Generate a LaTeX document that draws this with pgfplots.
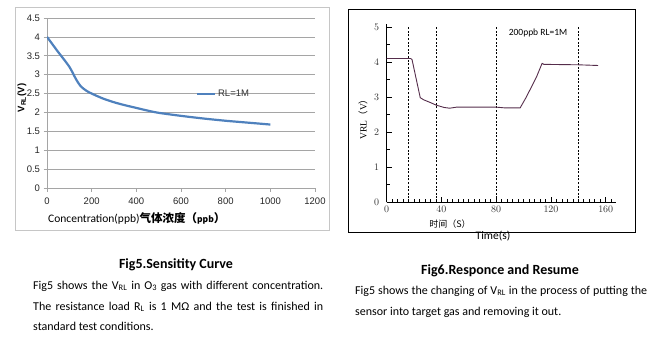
\documentclass[border=0pt]{standalone}
\usepackage{pgfplots}
\pgfplotsset{compat=1.18}
\usepackage{fontspec}
\setmainfont{Carlito}
\newfontfamily\cjk{Noto Sans CJK SC}
\newfontfamily\arial{Liberation Sans}
\newfontfamily\tnr{Liberation Serif}
\definecolor{xlblue}{RGB}{79,129,189}
\definecolor{gridgray}{RGB}{165,165,165}
\definecolor{curvep}{RGB}{85,45,75}
\begin{document}
\begin{tikzpicture}
\path[use as bounding box] (0,0) rectangle (657bp,-342bp);
\draw[gray!45, line width=0.8bp] (15bp,-7bp) rectangle (329bp,-230bp);
\draw[black, line width=0.6bp] (348bp,-9bp) rectangle (635bp,-232bp);

% ---------- Fig5 ----------
\begin{axis}[
  at={(47bp,-188bp)}, anchor=south west,
  scale only axis, width=268bp, height=170bp,
  xmin=0, xmax=1200, ymin=0, ymax=4.5,
  axis lines*=left,
  axis line style={gridgray, line width=0.6bp},
  xtick={0,200,...,1200},
  ytick={0,0.5,1,1.5,2,2.5,3,3.5,4,4.5},
  scaled x ticks=false,
  ymajorgrids, grid style={gridgray, line width=0.6bp},
  tick align=outside, major tick length=3.5bp,
  tick style={gridgray, line width=0.6bp},
  /pgf/number format/assume math mode=true,
  /pgf/number format/1000 sep={},
  ticklabel style={font=\arial\fontsize{9.5bp}{11bp}\selectfont, text=black!85},
  x tick label style={yshift=-3bp},
  legend style={at={(0.555,0.551)}, anchor=west, draw=none, fill=none,
    font=\arial\fontsize{9.5bp}{11bp}\selectfont, text=black!80, inner sep=0pt},
  legend image code/.code={\draw[#1] (0bp,0bp) -- (18bp,0bp);},
]
\addplot[xlblue, line width=2.2bp, smooth] coordinates {
(0,4.0)(25,3.8)(50,3.6)(75,3.41)(100,3.21)(115,3.05)(130,2.88)(150,2.7)(175,2.58)(200,2.5)
(250,2.37)(300,2.27)(350,2.19)(400,2.12)(450,2.05)(500,1.99)(600,1.91)(700,1.84)
(800,1.78)(900,1.73)(1000,1.68)};
\addlegendentry{RL=1M}
\end{axis}

% ---------- Fig6 ----------
\begin{axis}[
  at={(386.7bp,-202bp)}, anchor=south west,
  scale only axis, width=229.3bp, height=177.8bp,
  xmin=0, xmax=167.5, ymin=0, ymax=5.08,
  axis lines*=left,
  axis line style={black, line width=0.7bp},
  xtick={0,40,...,160}, minor xtick={4,8,...,164},
  ytick={0,1,2,3,4,5}, minor ytick={0.5,1.5,2.5,3.5,4.5},
  tick align=inside, major tick length=5bp, minor tick length=3bp,
  tick style={black, line width=0.7bp},
  ticklabel style={font=\tnr\fontsize{10bp}{12bp}\selectfont, text=black!80},
  x tick label style={yshift=-1bp},
  y tick label style={xshift=-4bp},
]
\addplot[black, line width=0.5bp, dash pattern=on 2bp off 1.6bp] coordinates {(16,0)(16,5)};
\addplot[black, line width=0.5bp, dash pattern=on 2bp off 1.6bp] coordinates {(36,0)(36,5)};
\addplot[black, line width=0.5bp, dash pattern=on 2bp off 1.6bp] coordinates {(80,0)(80,5)};
\addplot[black, line width=0.5bp, dash pattern=on 2bp off 1.6bp] coordinates {(140,0)(140,5)};
\addplot[curvep, line width=0.9bp] coordinates {
(0,4.1)(17.5,4.1)(18.5,4.07)(24.5,2.98)(27,2.92)(32,2.84)(36,2.77)(42,2.70)(46,2.68)
(51,2.71)(80,2.71)(86,2.69)(97.5,2.69)(102,3.0)(109.5,3.58)(113.5,3.96)(115,3.93)
(120,3.93)(140,3.92)(154.5,3.90)};
\end{axis}

% axis texts
\node[rotate=90, font=\arial\bfseries\fontsize{9.5bp}{11bp}\selectfont] at (22bp,-98bp) {V\textsubscript{RL}(V)};
\node[anchor=west, inner sep=0pt] at (48bp,-218bp) {\fontsize{11.5bp}{13bp}\selectfont Concentration(ppb){\cjk\bfseries 气体浓度（{\fontsize{8.5bp}{10bp}\selectfont ppb}）}};
\node[font=\fontsize{9.5bp}{11bp}\selectfont] at (538bp,-33bp) {200ppb RL=1M};
\node[rotate=90, font=\tnr\fontsize{9.5bp}{11bp}\selectfont] at (363bp,-117bp) {VRL{\cjk（}V{\cjk）}};
\node[font=\cjk\fontsize{9bp}{11bp}\selectfont] at (450bp,-224bp) {时间（S）};
\node[font=\fontsize{11.5bp}{13bp}\selectfont] at (493bp,-236bp) {Time(s)};

% captions
\node[anchor=base, inner sep=0pt, font=\bfseries\fontsize{14bp}{16bp}\selectfont] at (176bp,-268bp) {Fig5.Sensitity Curve};
\begin{scope}[every node/.style={anchor=base west, inner sep=0pt, font=\fontsize{12bp}{14bp}\selectfont}]
\node at (33bp,-289bp) {\makebox[290bp][s]{Fig5 shows the V\textsubscript{RL} in O\textsubscript{3} gas with different concentration.}};
\node at (33bp,-310bp) {\makebox[290bp][s]{The resistance load R\textsubscript{L} is 1 MΩ and the test is finished in}};
\node at (33bp,-330bp) {standard test conditions.};
\node at (355bp,-294bp) {\makebox[292bp][s]{Fig5 shows the changing of V\textsubscript{RL} in the process of putting the}};
\node at (355bp,-315bp) {sensor into target gas and removing it out.};
\end{scope}
\node[anchor=base, inner sep=0pt, font=\bfseries\fontsize{14bp}{16bp}\selectfont] at (500bp,-274bp) {Fig6.Responce and Resume};
\end{tikzpicture}
\end{document}
